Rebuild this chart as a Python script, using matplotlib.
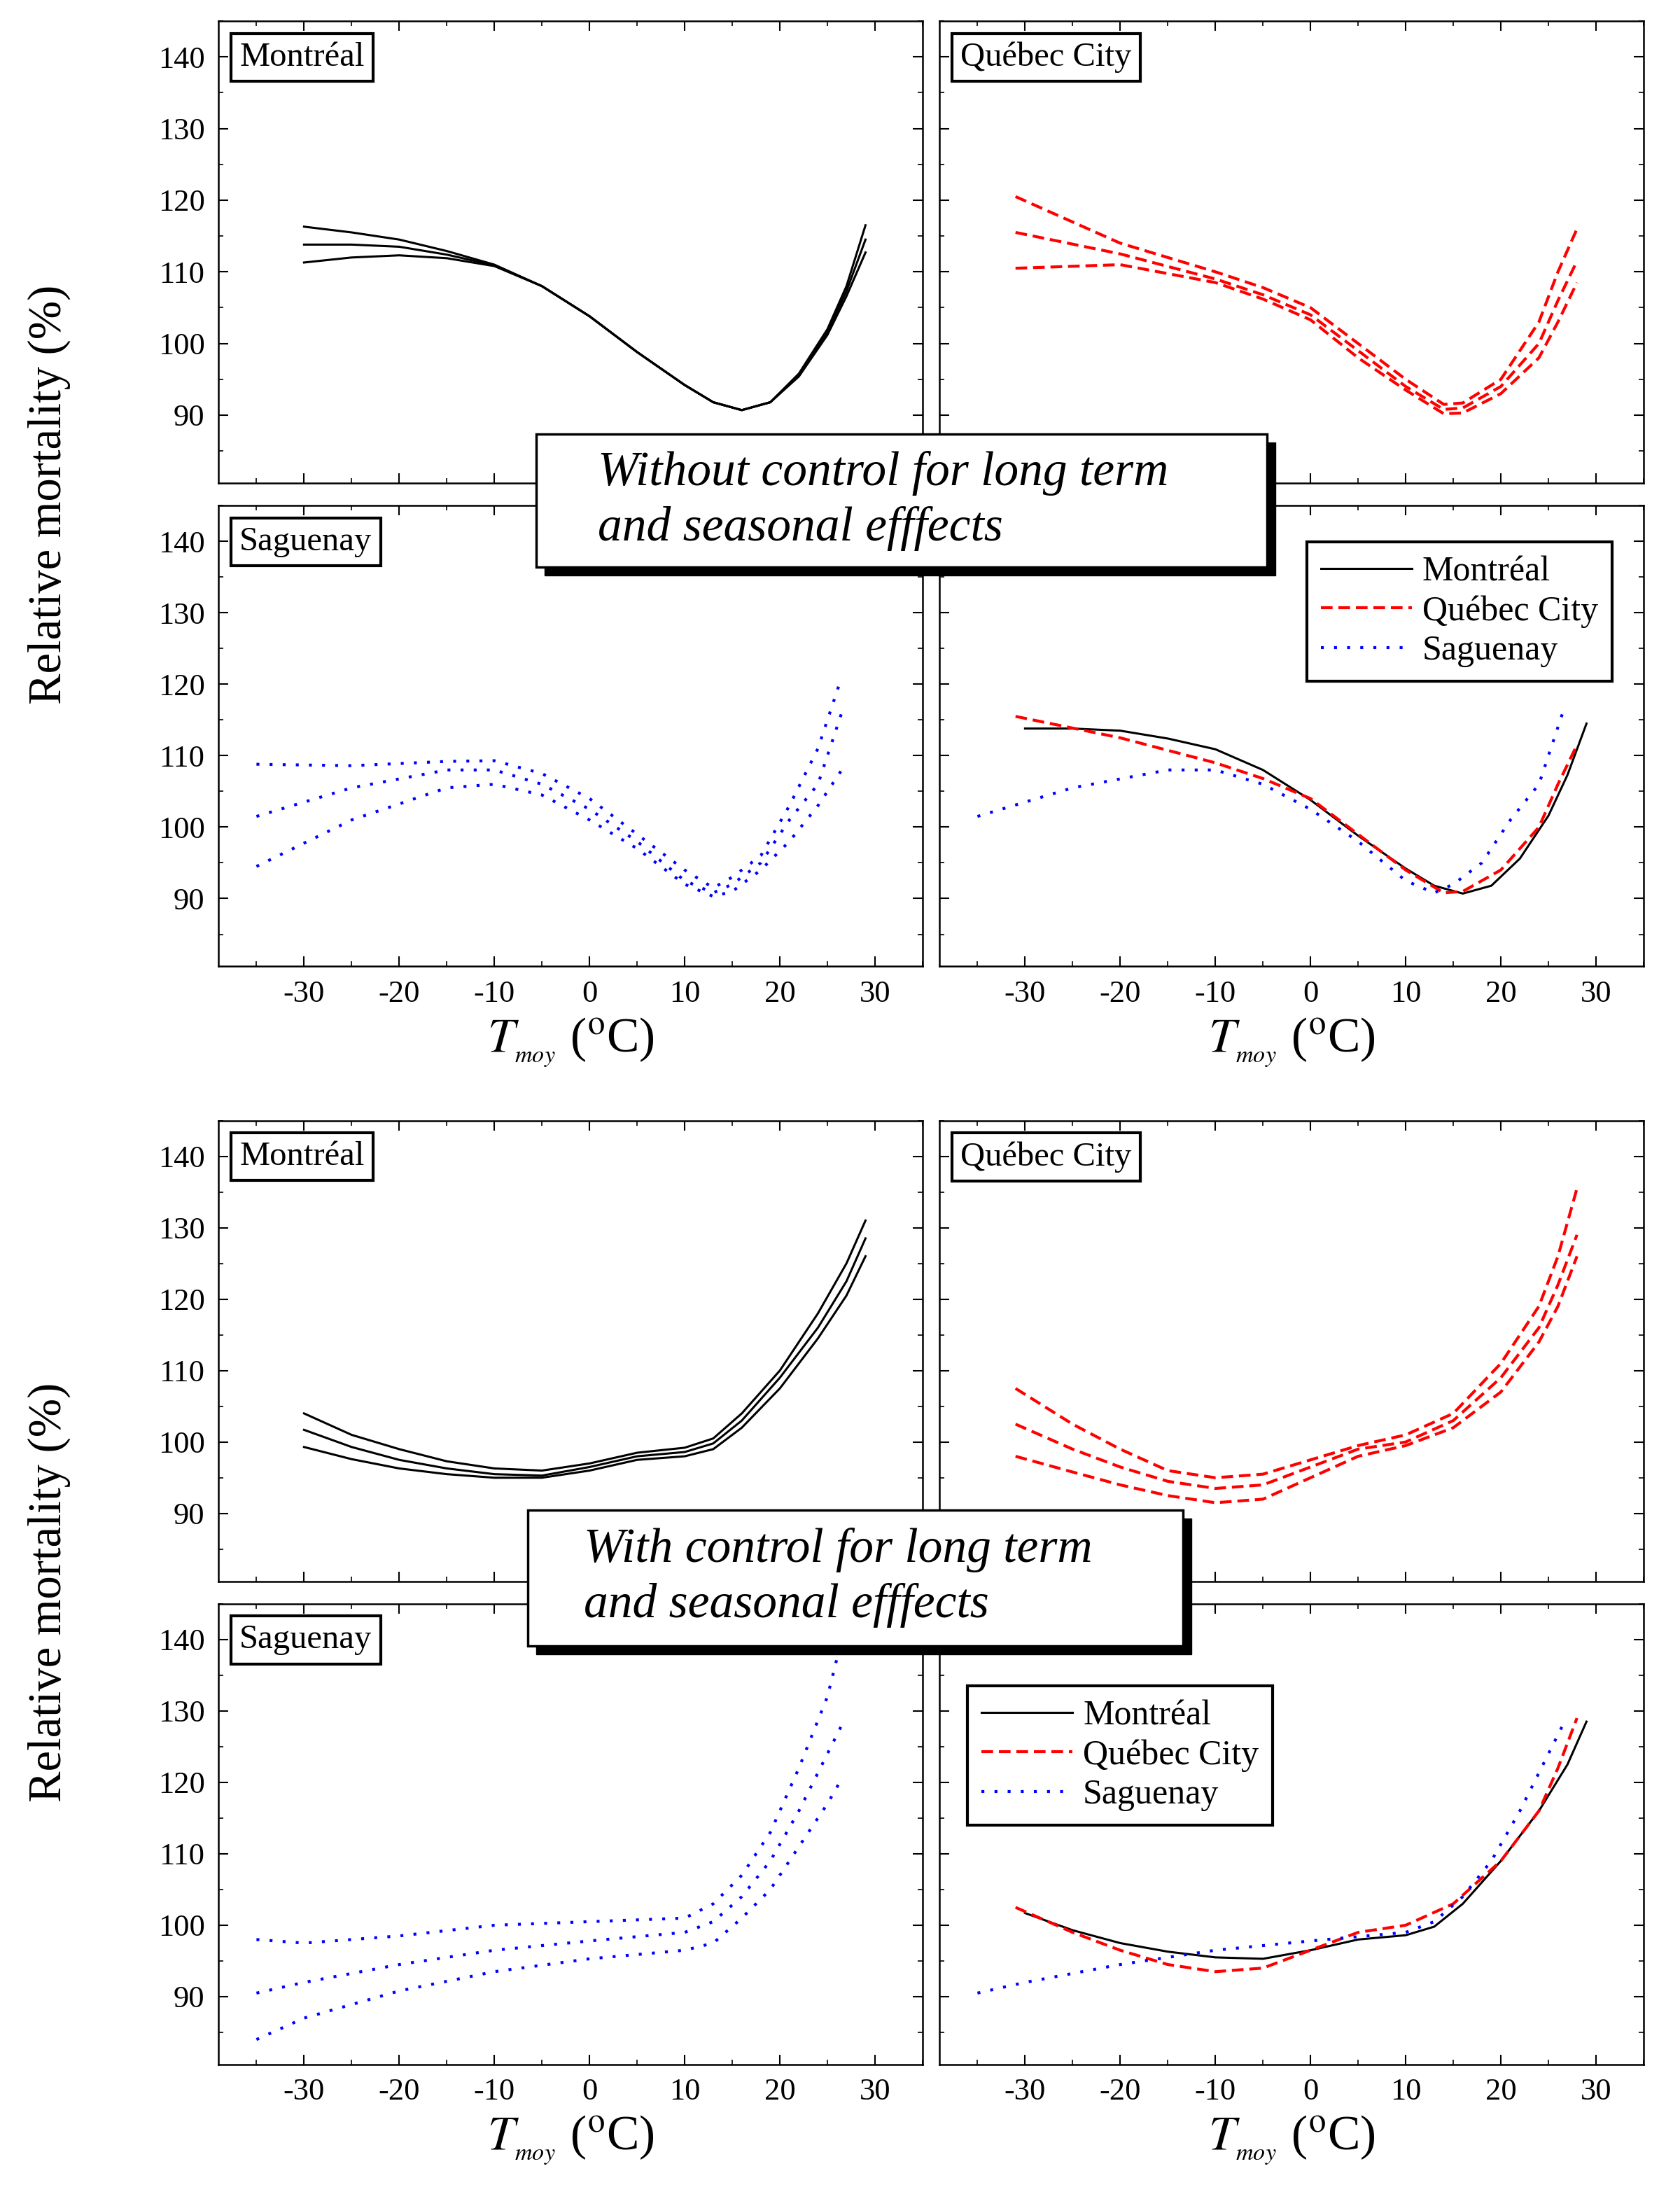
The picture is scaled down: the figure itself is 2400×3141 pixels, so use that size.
import numpy as np
import matplotlib
matplotlib.use('Agg')
import matplotlib.pyplot as plt
from matplotlib.patches import Rectangle
from matplotlib.ticker import MultipleLocator

plt.rcParams['font.family'] = ['Liberation Serif', 'DejaVu Serif']
plt.rcParams['mathtext.fontset'] = 'stix'
plt.rcParams['axes.unicode_minus'] = False

# ---- data: without control (top block) ----
mt_x = [-30, -25, -20, -15, -10, -5, 0, 5, 10, 13, 16, 19, 22, 25, 27, 29]
mt_hi = [116.3, 115.5, 114.5, 112.9, 111.0, 108.0, 103.8, 98.8, 94.2, 91.8, 90.7, 91.8, 95.8, 102.0, 108.0, 116.5]
mt_mid = [113.8, 113.8, 113.5, 112.4, 110.9, 108.0, 103.8, 98.8, 94.2, 91.8, 90.7, 91.8, 95.6, 101.6, 107.3, 114.5]
mt_lo = [111.3, 112.0, 112.3, 111.9, 110.8, 108.0, 103.8, 98.8, 94.2, 91.8, 90.7, 91.8, 95.4, 101.2, 106.6, 112.7]

qt_x = [-31, -20, -10, -5, 0, 5, 10, 14, 16, 20, 24, 26, 28]
qt_hi = [120.5, 114.0, 110.0, 107.8, 105.0, 100.0, 95.0, 91.5, 91.7, 95.0, 103.0, 110.0, 116.0]
qt_mid = [115.5, 112.5, 109.0, 106.8, 104.0, 99.0, 94.0, 90.8, 91.0, 94.0, 100.0, 106.0, 111.5]
qt_lo = [110.5, 111.0, 108.5, 106.2, 103.3, 98.0, 93.5, 90.2, 90.3, 93.0, 98.0, 103.0, 108.5]

st_x = [-35, -25, -15, -10, -5, 0, 5, 10, 13, 15, 18, 21, 24, 26.5]
st_hi = [108.8, 108.6, 109.2, 109.3, 107.5, 104.0, 99.0, 94.0, 91.5, 93.0, 96.0, 103.0, 111.0, 121.0]
st_mid = [101.5, 105.5, 108.0, 108.0, 106.0, 102.5, 98.0, 92.5, 90.8, 92.0, 95.0, 101.0, 106.0, 116.0]
st_lo = [94.5, 101.0, 105.5, 106.0, 104.5, 101.0, 97.0, 92.0, 90.3, 91.0, 94.0, 98.0, 103.0, 108.0]

# ---- data: with control (bottom block) ----
mb_x = [-30, -25, -20, -15, -10, -5, 0, 5, 10, 13, 16, 20, 24, 27, 29]
mb_hi = [104.0, 101.0, 99.0, 97.3, 96.3, 96.0, 97.0, 98.5, 99.2, 100.5, 104.0, 110.0, 118.0, 125.0, 131.0]
mb_mid = [101.7, 99.3, 97.5, 96.3, 95.5, 95.3, 96.5, 98.0, 98.6, 99.8, 103.0, 109.0, 116.0, 122.5, 128.5]
mb_lo = [99.3, 97.6, 96.3, 95.5, 95.0, 95.0, 96.0, 97.5, 98.0, 99.0, 102.0, 107.5, 114.5, 120.5, 126.0]

qb_x = [-31, -25, -20, -15, -10, -5, 0, 5, 10, 15, 20, 24, 26, 28]
qb_hi = [107.5, 102.5, 99.0, 96.0, 95.0, 95.5, 97.5, 99.5, 101.0, 104.0, 111.0, 119.0, 126.0, 135.5]
qb_mid = [102.5, 99.0, 96.5, 94.5, 93.5, 94.0, 96.5, 99.0, 100.0, 103.0, 109.0, 116.0, 122.0, 129.0]
qb_lo = [98.0, 95.8, 94.0, 92.5, 91.5, 92.0, 95.0, 98.0, 99.5, 102.0, 107.0, 114.0, 119.0, 126.0]

sb_x = [-35, -30, -20, -10, 0, 10, 13, 16, 19, 22, 25, 26.5]
sb_hi = [98.0, 97.5, 98.5, 100.0, 100.5, 101.0, 103.0, 107.0, 113.0, 122.0, 132.0, 140.0]
sb_mid = [90.5, 92.0, 94.5, 96.5, 97.8, 99.0, 100.5, 104.0, 109.0, 116.0, 124.0, 128.0]
sb_lo = [84.0, 87.0, 90.8, 93.5, 95.3, 96.5, 97.5, 101.0, 105.0, 111.0, 117.0, 120.5]

SOLID = dict(color='black', lw=2.2, ls='-')
DASH = dict(color='red', lw=3.0, ls=(0, (4, 2)))
DOT = dict(color='blue', lw=3.0, ls=(0, (1, 3.5)))

W, H = 1200, 1570
fig = plt.figure(figsize=(24, 31.41), dpi=100)


def make_ax(x0, y0, x1, y1, xlab, ylab):
    ax = fig.add_axes([x0 / W, 1 - y1 / H, (x1 - x0) / W, (y1 - y0) / H])
    ax.set_xlim(-39, 35)
    ax.set_ylim(80.5, 145)
    ax.xaxis.set_major_locator(MultipleLocator(10))
    ax.xaxis.set_minor_locator(MultipleLocator(5))
    ax.yaxis.set_minor_locator(MultipleLocator(5))
    ax.set_yticks(range(90, 141, 10))
    ax.tick_params(which='both', direction='in', top=True, right=True,
                   labelsize=32, pad=14)
    ax.tick_params(which='major', length=10, width=1.5)
    ax.tick_params(which='minor', length=5, width=1.2)
    ax.tick_params(labelbottom=xlab, labelleft=ylab)
    for s in ax.spines.values():
        s.set_linewidth(1.8)
    if xlab:
        ax.set_xlabel(r'$T_{_{moy}}$ ($^{\mathrm{o}}$C)', fontsize=50, labelpad=8)
    return ax


def city_label(ax, txt):
    ax.text(0.03, 0.955, txt, transform=ax.transAxes, fontsize=35,
            va='top', ha='left',
            bbox=dict(boxstyle='square,pad=0.25', fc='white', ec='black', lw=3))


def three(ax, x, a, b, c, st):
    for y in (a, b, c):
        ax.plot(x, y, **st)


L0, L1, R0, R1 = 156, 659, 671, 1174
rows = [(15, 345), (361, 690), (800, 1129), (1145, 1474)]

for blk in range(2):
    r1, r2 = rows[2 * blk], rows[2 * blk + 1]
    a1 = make_ax(L0, r1[0], L1, r1[1], False, True)
    a2 = make_ax(R0, r1[0], R1, r1[1], False, False)
    a3 = make_ax(L0, r2[0], L1, r2[1], True, True)
    a4 = make_ax(R0, r2[0], R1, r2[1], True, False)
    if blk == 0:
        three(a1, mt_x, mt_hi, mt_mid, mt_lo, SOLID)
        three(a2, qt_x, qt_hi, qt_mid, qt_lo, DASH)
        three(a3, st_x, st_hi, st_mid, st_lo, DOT)
        a4.plot(mt_x, mt_mid, label='Montréal', **SOLID)
        a4.plot(qt_x, qt_mid, label='Québec City', **DASH)
        a4.plot(st_x, st_mid, label='Saguenay', **DOT)
        loc = 'upper right'
        anchor = (0.98, 0.96)
    else:
        three(a1, mb_x, mb_hi, mb_mid, mb_lo, SOLID)
        three(a2, qb_x, qb_hi, qb_mid, qb_lo, DASH)
        three(a3, sb_x, sb_hi, sb_mid, sb_lo, DOT)
        a4.plot(mb_x, mb_mid, label='Montréal', **SOLID)
        a4.plot(qb_x, qb_mid, label='Québec City', **DASH)
        a4.plot(sb_x, sb_mid, label='Saguenay', **DOT)
        loc = 'upper left'
        anchor = (0.015, 0.86)
    leg = a4.legend(loc=loc, bbox_to_anchor=anchor, fontsize=36, fancybox=False,
                    edgecolor='black', framealpha=1, handlelength=2.6,
                    borderpad=0.4, labelspacing=0.2, handletextpad=0.3)
    leg.get_frame().set_linewidth(3)
    city_label(a1, 'Montréal')
    city_label(a2, 'Québec City')
    city_label(a3, 'Saguenay')
    ymid = 1 - (r1[1] + 8) / H
    fig.text(35 / W, ymid, 'Relative mortality (%)', rotation=90,
             fontsize=48, ha='center', va='center')

# overlay boxes with drop shadow
boxes = [((383, 310, 905, 405), 'Without control for long term\nand seasonal efffects', 427),
         ((377, 1078, 845, 1175), 'With control for long term\nand seasonal efffects', 417)]
for (x0, y0, x1, y1), txt, tx in boxes:
    sh = Rectangle(((x0 + 6) / W, 1 - (y1 + 6) / H), (x1 - x0) / W, (y1 - y0) / H,
                   transform=fig.transFigure, fc='black', ec='black', zorder=10)
    bx = Rectangle((x0 / W, 1 - y1 / H), (x1 - x0) / W, (y1 - y0) / H,
                   transform=fig.transFigure, fc='white', ec='black', lw=2.5, zorder=11)
    fig.patches.extend([sh, bx])
    fig.text(tx / W, 1 - (y0 + y1) / 2 / H, txt, fontsize=50, style='italic',
             ha='left', va='center', zorder=12, linespacing=1.3)

fig.savefig('out.png', dpi=100)
